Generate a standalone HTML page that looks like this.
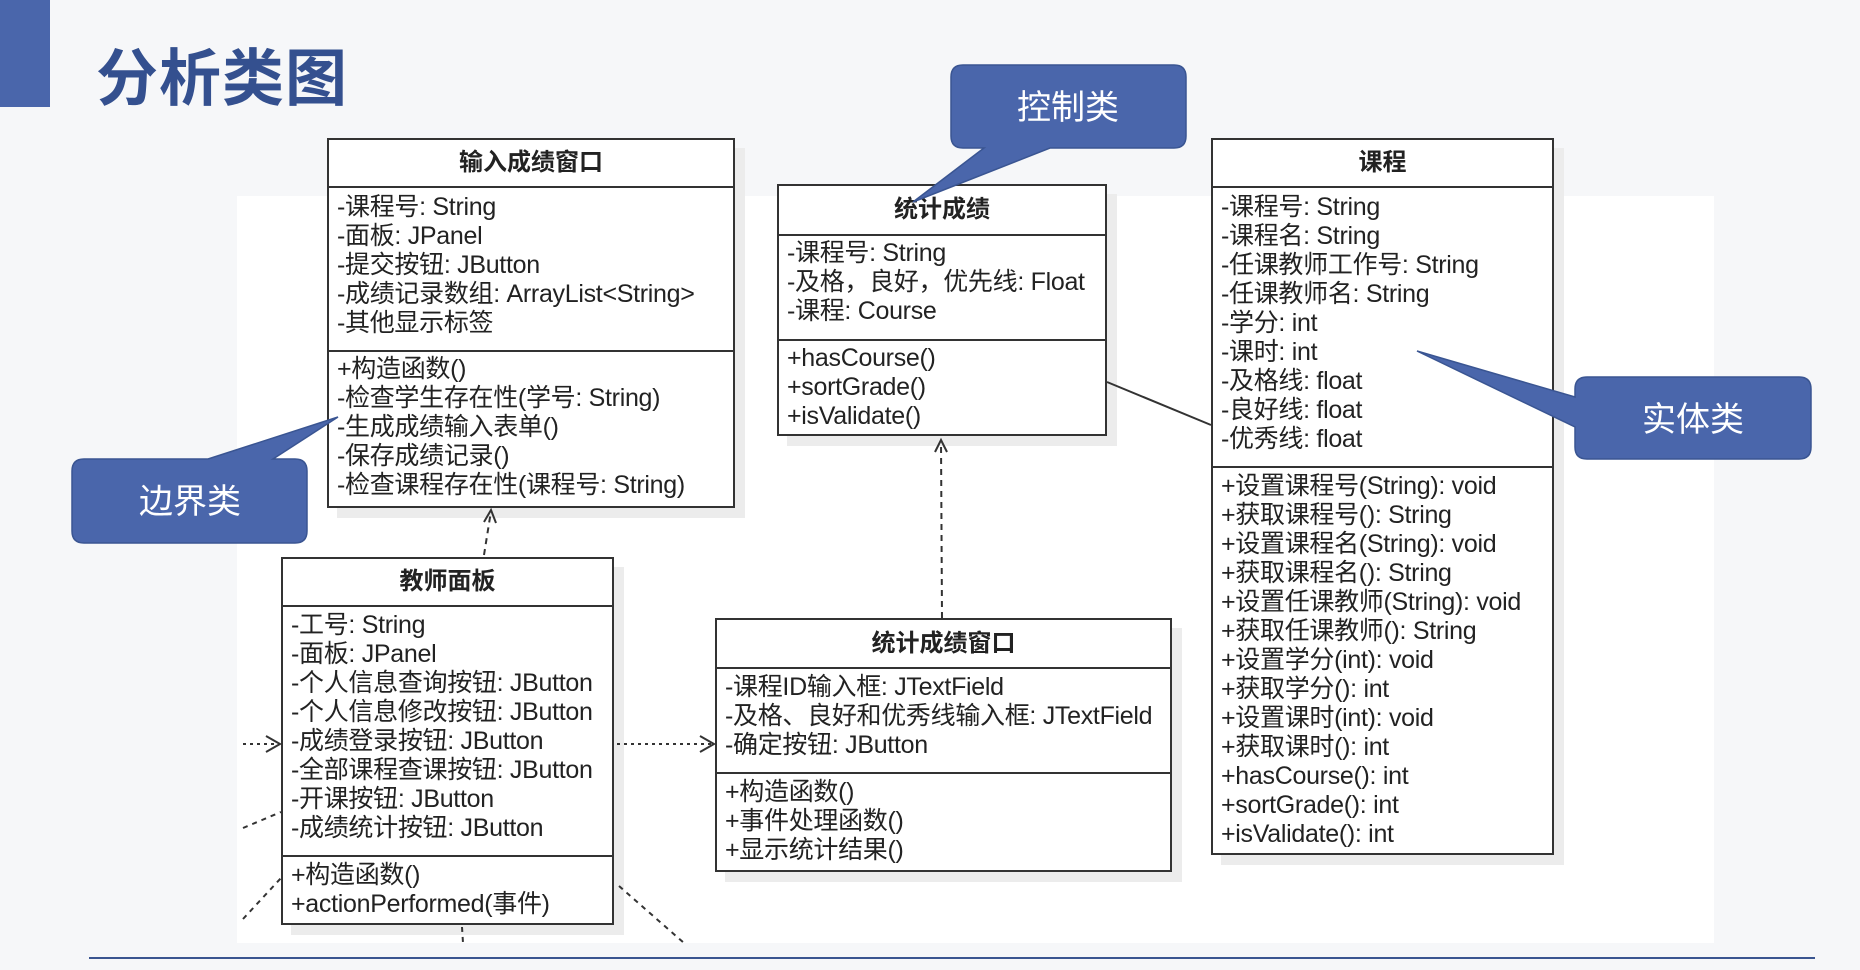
<!DOCTYPE html>
<html><head><meta charset="utf-8"><style>
*{margin:0;padding:0;box-sizing:border-box}
body{width:1860px;height:970px;position:relative;overflow:hidden;background:#f6f7f9;font-family:"Liberation Sans","Noto Sans CJK SC",sans-serif}
.panel{position:absolute;left:237px;top:196px;width:1477px;height:747px;background:#fff}
.box{position:absolute;background:#fff;border:2px solid #333;box-shadow:10px 10px 0 #ececec}
.hd{border-bottom:2px solid #333;font-weight:bold;font-size:24px;text-align:center;color:#222}
.sec{padding-left:8px;font-size:25px;line-height:29px;color:#222;white-space:nowrap;letter-spacing:-0.3px}
.sec+.sec{border-top:2px solid #333}
.t{position:absolute;font-family:"Liberation Sans","Noto Sans CJK SC",sans-serif}
</style></head><body>
<div class="panel"></div>
<div style="position:absolute;left:0;top:0;width:50px;height:107px;background:#4a66ab"></div>
<div class="t" style="left:96px;top:28px;font-size:62px;font-weight:bold;color:#34508f;letter-spacing:1px">分析类图</div>
<div style="position:absolute;left:89px;top:957px;width:1726px;height:2px;background:#3a5590"></div>

<div class="box" style="left:327px;top:138px;width:408px;height:370px">
<div class="hd" style="height:48px;line-height:46px">输入成绩窗口</div>
<div class="sec" style="height:162px;padding-top:5px">-课程号: String<br>-面板: JPanel<br>-提交按钮: JButton<br>-成绩记录数组: ArrayList&lt;String&gt;<br>-其他显示标签</div>
<div class="sec" style="padding-top:3px">+构造函数()<br>-检查学生存在性(学号: String)<br>-生成成绩输入表单()<br>-保存成绩记录()<br>-检查课程存在性(课程号: String)</div>
</div>

<div class="box" style="left:777px;top:184px;width:330px;height:252px">
<div class="hd" style="height:50px;line-height:48px">统计成绩</div>
<div class="sec" style="height:103px;padding-top:3px">-课程号: String<br>-及格，良好，优先线: Float<br>-课程: Course</div>
<div class="sec" style="padding-top:3px">+hasCourse()<br>+sortGrade()<br>+isValidate()</div>
</div>

<div class="box" style="left:1211px;top:138px;width:343px;height:717px">
<div class="hd" style="height:48px;line-height:46px">课程</div>
<div class="sec" style="height:278px;padding-top:5px">-课程号: String<br>-课程名: String<br>-任课教师工作号: String<br>-任课教师名: String<br>-学分: int<br>-课时: int<br>-及格线: float<br>-良好线: float<br>-优秀线: float</div>
<div class="sec" style="padding-top:4px">+设置课程号(String): void<br>+获取课程号(): String<br>+设置课程名(String): void<br>+获取课程名(): String<br>+设置任课教师(String): void<br>+获取任课教师(): String<br>+设置学分(int): void<br>+获取学分(): int<br>+设置课时(int): void<br>+获取课时(): int<br>+hasCourse(): int<br>+sortGrade(): int<br>+isValidate(): int</div>
</div>

<div class="box" style="left:281px;top:557px;width:333px;height:368px">
<div class="hd" style="height:48px;line-height:46px">教师面板</div>
<div class="sec" style="height:248px;padding-top:4px">-工号: String<br>-面板: JPanel<br>-个人信息查询按钮: JButton<br>-个人信息修改按钮: JButton<br>-成绩登录按钮: JButton<br>-全部课程查课按钮: JButton<br>-开课按钮: JButton<br>-成绩统计按钮: JButton</div>
<div class="sec" style="padding-top:4px">+构造函数()<br>+actionPerformed(事件)</div>
</div>

<div class="box" style="left:715px;top:618px;width:457px;height:254px">
<div class="hd" style="height:49px;line-height:47px">统计成绩窗口</div>
<div class="sec" style="height:103px;padding-top:4px">-课程ID输入框: JTextField<br>-及格、良好和优秀线输入框: JTextField<br>-确定按钮: JButton</div>
<div class="sec" style="padding-top:4px">+构造函数()<br>+事件处理函数()<br>+显示统计结果()</div>
</div>

<svg width="1860" height="970" style="position:absolute;left:0;top:0" xmlns="http://www.w3.org/2000/svg">
<g stroke="#333" stroke-width="2" fill="none">
<line x1="484" y1="555" x2="491" y2="511" stroke-dasharray="6,5"/>
<polyline points="484,522 491,510 496,523"/>
<line x1="942" y1="618" x2="941" y2="440" stroke-dasharray="6,5"/>
<polyline points="935,452 941,440 947,452"/>
<line x1="1107" y1="382" x2="1211" y2="425"/>
<line x1="617" y1="744" x2="713" y2="744" stroke-dasharray="3,4"/>
<polyline points="700,736 714,744 700,752"/>
<line x1="243" y1="744" x2="279" y2="744" stroke-dasharray="3,4"/>
<polyline points="266,736 280,744 266,752"/>
<line x1="243" y1="828" x2="281" y2="812" stroke-dasharray="5,5"/>
<line x1="243" y1="919" x2="281" y2="878" stroke-dasharray="5,5"/>
<line x1="462" y1="927" x2="463" y2="943" stroke-dasharray="5,5"/>
<line x1="619" y1="886" x2="684" y2="943" stroke-dasharray="5,5"/>
</g>
<g fill="#4a66ab" stroke="#3a5592" stroke-width="1.5">
<path d="M963,65 H1174 Q1186,65 1186,77 V136 Q1186,148 1174,148 H1050 L913,202 L984,148 H963 Q951,148 951,136 V77 Q951,65 963,65 Z"/>
<path d="M84,459 H208 L338,417 L273,459 H295 Q307,459 307,471 V531 Q307,543 295,543 H84 Q72,543 72,531 V471 Q72,459 84,459 Z"/>
<path d="M1587,377 H1799 Q1811,377 1811,389 V447 Q1811,459 1799,459 H1587 Q1575,459 1575,447 V427 L1417,351 L1575,397 V389 Q1575,377 1587,377 Z"/>
</g>
<g fill="#fff" font-family="Liberation Sans, Noto Sans CJK SC, sans-serif" font-size="34" text-anchor="middle">
<text x="1068" y="119">控制类</text>
<text x="190" y="513">边界类</text>
<text x="1693" y="431">实体类</text>
</g>
</svg>
</body></html>
